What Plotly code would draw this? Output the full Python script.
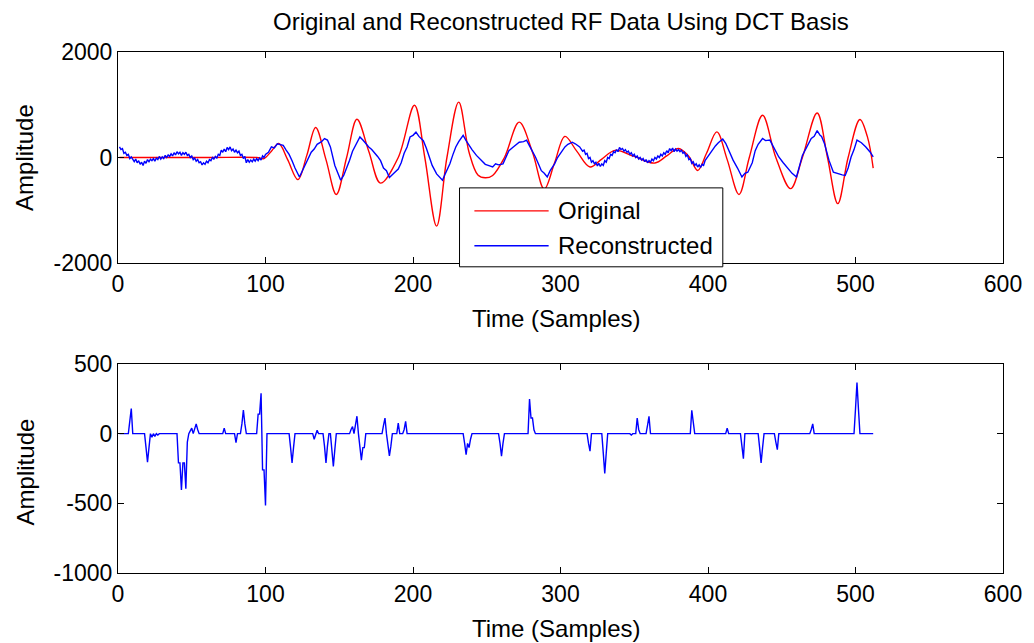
import plotly.graph_objects as go
from plotly.subplots import make_subplots

# ---- original RF trace: sample index and amplitude at turning points ----
orig_t = [1, 60, 94, 99, 104, 109, 115, 122, 128, 134,
          141, 148, 155, 162, 170, 178, 190, 201, 208, 216,
          223, 231, 238, 244, 249, 254, 262, 272, 281, 289,
          296, 303, 311, 320, 328, 337, 350, 364, 372, 380,
          387, 393, 399, 406, 413, 421, 428, 437, 446, 456,
          464, 474, 481, 488, 495, 503, 508, 512]
orig_v = [0, 0, 0, -20, 120, 265, -40, -420, 40, 570,
          -40, -700, 0, 725, 120, -485, 0, 990, 0, -1300,
          0, 1050, 100, -330, -385, -340, 0, 670, 100, -600,
          -100, 400, 120, -180, -30, 135, 20, -105, 30, 170,
          20, -245, 80, 485, -40, -700, 0, 800, 0, -590,
          0, 845, 0, -875, 0, 720, 400, -200]

# ---- reconstructed RF trace ----
# samples 1..100, one value per sample
recon_head_v = [200, 150, 170, 80, 100, 40, 60, -20, 10, -40,
                -80, -30, -100, -60, -130, -90, -150, -70, -110, -40,
                -80, -30, -60, -20, -70, -10, -40, 20, -30, 10,
                -20, 40, 0, 50, 20, 70, 30, 90, 50, 110,
                70, 100, 40, 90, 60, 100, 40, 60, 0, 30,
                -40, -10, -70, -40, -100, -80, -140, -100, -130, -70,
                -100, -40, -60, 0, -30, 20, -10, 60, 40, 140,
                100, 160, 110, 190, 150, 200, 130, 160, 100, 140,
                90, 120, 40, 60, -20, 20, -100, -40, -90, -50,
                -80, -30, -70, -20, -60, -10, -50, 30, 0, 60]
# samples 102..312
recon_mid_t = [102, 104, 106, 108,
               110, 112, 114, 116, 118, 120, 123, 125, 127, 129,
               131, 133, 135, 138, 140, 142, 144, 147, 149, 151,
               153, 155, 157, 159, 162, 164, 166, 168, 170, 172,
               174, 176, 178, 180, 182, 184, 187, 190, 192, 194,
               196, 198, 200, 202, 204, 207, 209, 211, 213, 216,
               218, 220, 222, 225, 227, 229, 231, 234, 236, 238,
               240, 243, 245, 247, 249, 251, 254, 256, 258, 261,
               263, 265, 268, 270, 272, 275, 277, 279, 281, 283,
               285, 287, 289, 291, 293, 296, 298, 300, 303, 305,
               308, 310]
recon_mid_v = [100, 200, 180, 260,
               240, 230, 140, 60, -60, -200, -370, -260, -150, -20,
               100, 160, 250, 300, 360, 330, 200, -150, -300, -430,
               -340, -200, -50, 120, 280, 390, 330, 260, 200, 150,
               90, 20, -60, -200, -250, -380, -300, -220, -100, 80,
               200, 390, 420, 480, 400, 320, 180, 10, -150, -310,
               -380, -430, -300, -120, 50, 200, 300, 420, 320, 230,
               150, 40, -20, -90, -130, -150, -180, -120, -140, -120,
               0, 130, 200, 250, 290, 300, 330, 220, 120, 10,
               -120, -250, -300, -370, -250, -120, 0, 80, 200, 250,
               290, 260]
# samples 313..400, one value per sample
recon_quiet_v = [200, 160, 120, 140, 60, 80, -20, 0, -90, -60,
                 -120, -90, -160, -110, -170, -120, -150, -60, -90, 0,
                 -20, 60, 40, 110, 90, 150, 110, 190, 150, 170,
                 120, 150, 100, 120, 60, 90, 30, 60, 0, 30,
                 -30, 0, -50, -20, -80, -40, -100, -60, -90, -30,
                 -60, 0, -30, 30, 0, 60, 30, 90, 60, 130,
                 90, 170, 130, 180, 110, 160, 120, 150, 110, 140,
                 80, 100, 20, 50, -40, -20, -110, -80, -150, -120,
                 -180, -140, -190, -130, -150, -60, -20, 40]
# samples 402..512
recon_tail_t = [402, 405, 407, 410, 412, 413, 415, 417,
                420, 423, 425, 427, 430, 432, 434, 437, 439, 442,
                444, 446, 448, 451, 454, 457, 460, 462, 464, 467,
                470, 472, 474, 476, 477, 479, 482, 485, 487, 489,
                491, 493, 495, 497, 499, 501, 504, 507, 510, 512]
recon_tail_v = [100, 220, 280, 350, 270, 200, 80, -50,
                -200, -370, -300, -280, -100, 130, 250, 360, 320, 330,
                220, 100, 10, -100, -210, -300, -370, -150, 40, 200,
                360, 400, 510, 420, 400, 260, -50, -280, -300, -320,
                -330, -340, -200, 10, 150, 330, 280, 200, 100, 10]

# ---- residual: nonzero samples only, everything else is zero ----
n_samples = 512
spike_t = [8, 9, 19, 20, 21, 23, 25, 27,
           41, 42, 43, 44, 45, 46, 47, 49, 50, 52, 53, 54,
           72, 80, 84, 85, 86, 95, 96, 97, 98, 99, 100,
           117, 118, 119, 133, 135, 140, 141, 142, 145, 146, 147,
           158, 159, 161, 162, 164, 165, 166, 167, 180, 181,
           183, 184, 185, 190, 194, 195,
           235, 236, 237, 238, 239, 259, 260, 261,
           279, 280, 281, 282, 319, 320, 329, 330, 331,
           348, 352, 353, 359, 360, 389, 390,
           413, 423, 424, 435, 436, 437, 446, 447, 470, 471,
           500, 501, 502]
spike_v = [90, 180, -100, -205, -100, -25, -20, -10,
           -210, -210, -405, -210, -210, -395, -60, 20, 40, 30, 70, 30,
           40, -65, 70, 170, 70, 140, 140, 290, -260, -260, -515,
           -100, -210, -100, -40, 25, -90, -210, -90, -115, -235, -115,
           30, 50, 50, 125, -100, -190, -100, -100, 60, 112,
           -90, -160, -90, 76, 30, 88,
           -70, -150, -70, -100, -40, -70, -162, -70,
           248, 112, 112, 28, -70, -126, -140, -286, -140,
           -10, 112, 30, 60, 124, 167, 60,
           40, -90, -179, -100, -210, -100, -60, -115, 30, 70,
           177, 367, 177]

# ---- axes ----
x_ticks = [0, 100, 200, 300, 400, 500, 600]
top_y_ticks = [-2000, 0, 2000]
bottom_y_ticks = [-1000, -500, 0, 500]

title_text = "Original and Reconstructed RF Data Using DCT Basis"
x_label = "Time (Samples)"
y_label = "Amplitude"
legend_names = ["Original", "Reconstructed"]

RED = "#ff0000"
BLUE = "#0000ff"
FONT = "Liberation Sans, Arial, Helvetica, sans-serif"

recon_t = (list(range(1, 101)) + recon_mid_t
           + list(range(313, 401)) + recon_tail_t)
recon_v = recon_head_v + recon_mid_v + recon_quiet_v + recon_tail_v

residual_t = list(range(1, n_samples + 1))
residual_v = [0.0] * n_samples
for t, v in zip(spike_t, spike_v):
    residual_v[t - 1] = v

fig = make_subplots(rows=2, cols=1, vertical_spacing=0.0)

fig.add_trace(go.Scatter(x=orig_t, y=orig_v, mode="lines", name=legend_names[0],
                         line=dict(color=RED, width=1.4, shape="spline", smoothing=1.0)),
              row=1, col=1)
fig.add_trace(go.Scatter(x=recon_t, y=recon_v, mode="lines", name=legend_names[1],
                         line=dict(color=BLUE, width=1.4)),
              row=1, col=1)
fig.add_trace(go.Scatter(x=residual_t, y=residual_v, mode="lines",
                         line=dict(color=BLUE, width=1.4), showlegend=False),
              row=2, col=1)


def tick_labels(values):
    # plain hyphen for negative numbers
    return [str(v) for v in values]


axis_common = dict(
    showline=True, linecolor="black", linewidth=1, mirror="ticks",
    ticks="inside", ticklen=6, tickcolor="black", tickwidth=1,
    showgrid=False, zeroline=False,
    tickfont=dict(family=FONT, size=23, color="black"),
)

fig.update_xaxes(range=[0, 600], tickvals=x_ticks, ticktext=tick_labels(x_ticks), **axis_common)
fig.update_yaxes(range=[-2000, 2000], tickvals=top_y_ticks,
                 ticktext=tick_labels(top_y_ticks), row=1, col=1, **axis_common)
fig.update_yaxes(range=[-1000, 500], tickvals=bottom_y_ticks,
                 ticktext=tick_labels(bottom_y_ticks), row=2, col=1, **axis_common)

fig.update_layout(
    width=1034, height=643,
    margin=dict(l=118, r=22, t=52, b=70),
    paper_bgcolor="white", plot_bgcolor="white",
    showlegend=False,
    font=dict(family=FONT, color="black"),
    yaxis=dict(domain=[0.595, 1.0]),
    yaxis2=dict(domain=[0.0, 0.4012]),
)

annotations = [
    dict(text=title_text, x=0.5, y=1.0576, xref="paper", yref="paper",
         xanchor="center", yanchor="middle", showarrow=False,
         font=dict(family=FONT, size=24, color="black")),
    dict(text=x_label, x=0.4944, y=0.4894, xref="paper", yref="paper",
         xanchor="center", yanchor="middle", showarrow=False,
         font=dict(family=FONT, size=24, color="black")),
    dict(text=x_label, x=0.4944, y=-0.1056, xref="paper", yref="paper",
         xanchor="center", yanchor="middle", showarrow=False,
         font=dict(family=FONT, size=24, color="black")),
    dict(text=y_label, x=-0.1051, y=0.7985, xref="paper", yref="paper",
         xanchor="center", yanchor="middle", textangle=-90, showarrow=False,
         font=dict(family=FONT, size=24, color="black")),
    dict(text=y_label, x=-0.1051, y=0.195, xref="paper", yref="paper",
         xanchor="center", yanchor="middle", textangle=-90, showarrow=False,
         font=dict(family=FONT, size=24, color="black")),
]

# legend box drawn over the upper panel
box = dict(x0=0.3859, x1=0.6834, y0=0.5877, y1=0.7392)
rows_y = [0.6951, 0.628]
shapes = [dict(type="rect", xref="paper", yref="paper", layer="above",
               fillcolor="white", line=dict(color="black", width=1), **box)]
for name, color, yy in zip(legend_names, [RED, BLUE], rows_y):
    shapes.append(dict(type="line", xref="paper", yref="paper", layer="above",
                       x0=0.4027, x1=0.4866, y0=yy, y1=yy,
                       line=dict(color=color, width=1.4)))
    annotations.append(dict(text=name, x=0.4944, y=yy, xref="paper", yref="paper",
                            xanchor="left", yanchor="middle", showarrow=False,
                            font=dict(family=FONT, size=24, color="black")))

fig.update_layout(annotations=annotations, shapes=shapes)

fig.write_html("out.html")
